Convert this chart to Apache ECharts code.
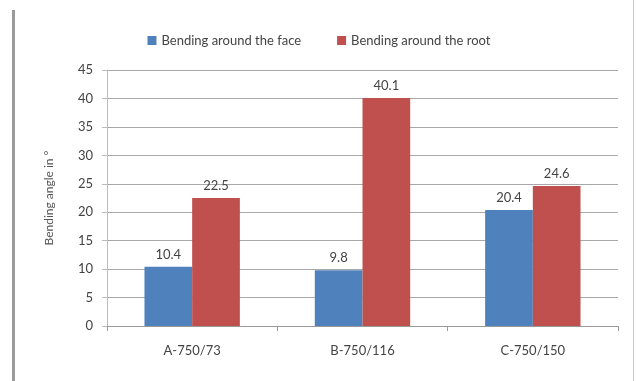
<!DOCTYPE html>
<html>
<head>
<meta charset="utf-8">
<script src="https://cdn.jsdelivr.net/npm/echarts@6/dist/echarts.min.js"></script>
<style>
  html, body { margin: 0; padding: 0; background: #fff; }
  #chart { width: 638px; height: 381px; }
</style>
</head>
<body>
<div id="chart"></div>
<script>
const categories = ['A-750/73', 'B-750/116', 'C-750/150']
const faceValues = [10.4, 9.8, 20.4]
const rootValues = [22.5, 40.1, 24.6]
const seriesNames = ['Bending around the face', 'Bending around the root']

const chart = echarts.init(document.getElementById('chart'))
const font = 'Lato, "Open Sans", sans-serif'

chart.setOption({
  animation: false,
  textStyle: { fontFamily: font },
  graphic: [
    { type: 'rect', shape: { x: 12, y: 10, width: 3, height: 371 }, style: { fill: '#9a9a9a' } },
    { type: 'rect', shape: { x: 633, y: 0, width: 1, height: 381 }, style: { fill: '#c8c8c8' } }
  ],
  legend: {
    top: 29,
    left: 'center',
    icon: 'rect',
    itemWidth: 9,
    itemHeight: 9,
    itemGap: 36,
    textStyle: { fontSize: 13, color: '#444', fontFamily: font },
    data: seriesNames
  },
  grid: { left: 107, right: 20, top: 70, bottom: 55 },
  xAxis: {
    type: 'category',
    data: categories,
    axisLine: { lineStyle: { color: '#999' } },
    axisTick: { show: true, length: 5, lineStyle: { color: '#999' } },
    axisLabel: { fontSize: 13, color: '#444', margin: 18 }
  },
  yAxis: {
    type: 'value',
    min: 0,
    max: 45,
    interval: 5,
    name: 'Bending angle in °',
    nameLocation: 'middle',
    nameGap: 52,
    nameTextStyle: { fontSize: 12, color: '#555' },
    axisLine: { show: true, lineStyle: { color: '#bbb' } },
    axisTick: { show: true, length: 5, inside: false, lineStyle: { color: '#bbb' } },
    axisLabel: { fontSize: 13, color: '#444', margin: 14 },
    splitLine: { lineStyle: { color: '#a8a8a8' } }
  },
  series: [
    {
      name: seriesNames[0],
      type: 'bar',
      data: faceValues,
      barWidth: '28%',
      barGap: '0%',
      itemStyle: { color: '#4f81bd' },
      label: { show: true, position: 'top', fontSize: 13, color: '#444', distance: 6 }
    },
    {
      name: seriesNames[1],
      type: 'bar',
      data: rootValues,
      barWidth: '28%',
      itemStyle: { color: '#c0504d' },
      label: { show: true, position: 'top', fontSize: 13, color: '#444', distance: 6 }
    }
  ]
})
</script>
</body>
</html>
